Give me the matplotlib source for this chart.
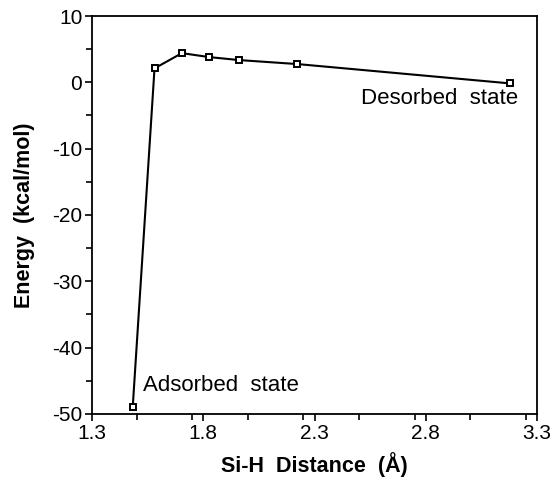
import matplotlib
matplotlib.use("Agg")
import matplotlib.pyplot as plt
from matplotlib.ticker import MultipleLocator

plt.rcParams['font.family'] = ['Liberation Sans', 'DejaVu Sans']

distance = [1.483, 1.581, 1.704, 1.827, 1.962, 2.223, 3.18]
energy = [-49.0, 2.1, 4.4, 3.8, 3.35, 2.75, -0.17]
xticks = [1.3, 1.8, 2.3, 2.8, 3.3]
yticks = [-50, -40, -30, -20, -10, 0, 10]

fig = plt.figure(figsize=(5.53, 4.82), dpi=100)
ax = fig.add_axes([92/553, 1 - 413.8/482, (537-92)/553, (413.8-16)/482])

ax.plot(distance, energy, color='black', lw=1.5, marker='s', ms=5,
        mfc='white', mec='black', mew=1.4)

ax.set_xlim(1.3, 3.3)
ax.set_ylim(-50, 10)
ax.set_xticks(xticks)
ax.set_xticklabels([f"{v:.1f}" for v in xticks])
ax.set_yticks(yticks)
ax.set_yticklabels([str(v) for v in yticks])
ax.xaxis.set_minor_locator(MultipleLocator(0.25))
ax.yaxis.set_minor_locator(MultipleLocator(5))
ax.tick_params(which='both', direction='out', width=1.2, labelsize=15, pad=2)
ax.tick_params(which='major', length=5)
ax.tick_params(which='minor', length=4)
for s in ax.spines.values():
    s.set_linewidth(1.3)

ax.set_xlabel("Si-H  Distance  (Å)", fontsize=15.5, fontweight='bold', labelpad=7)
ax.set_ylabel("Energy  (kcal/mol)", fontsize=15.5, fontweight='bold', labelpad=12)

ax.text(2.51, -2.4, "Desorbed  state", fontsize=16, ha='left', va='center')
ax.text(1.53, -45.7, "Adsorbed  state", fontsize=16, ha='left', va='center')

fig.savefig("out.png", dpi=100)
